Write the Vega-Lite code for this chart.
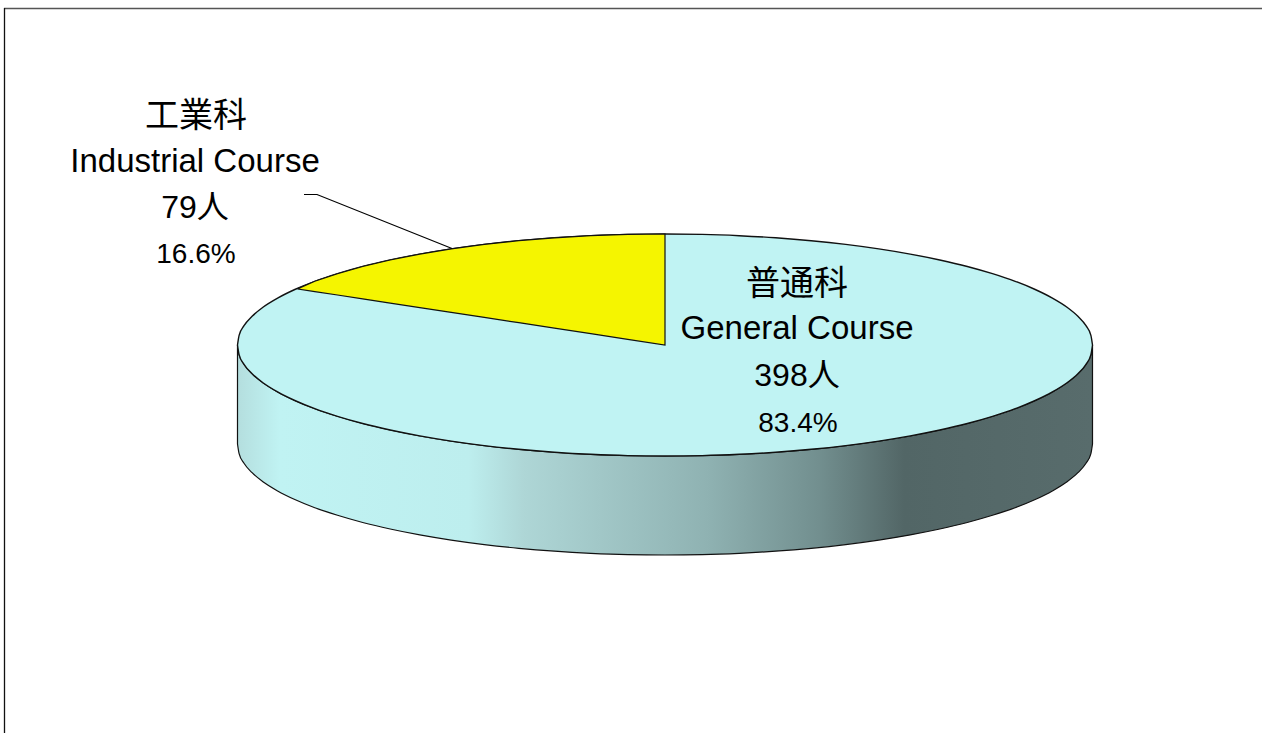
{
"$schema":"https://vega.github.io/schema/vega-lite/v6.json",
"width":1262,"height":733,"padding":0,"autosize":{"type":"none"},"background":"white",
"config":{"view":{"stroke":null}},
"datasets":{
"cyl":[
{"x":237.5,"upper":345,"lower":345,"base":444},
{"x":239.1,"upper":335.3,"lower":354.7,"base":453.7},
{"x":244.0,"upper":325.7,"lower":364.3,"base":463.3},
{"x":252.1,"upper":316.3,"lower":373.7,"base":472.7},
{"x":263.3,"upper":307,"lower":383,"base":482},
{"x":277.6,"upper":298.1,"lower":391.9,"base":490.9},
{"x":294.8,"upper":289.5,"lower":400.5,"base":499.5},
{"x":314.8,"upper":281.3,"lower":408.7,"base":507.7},
{"x":337.5,"upper":273.7,"lower":416.3,"base":515.3},
{"x":362.7,"upper":266.5,"lower":423.5,"base":522.5},
{"x":390.2,"upper":260,"lower":430,"base":529},
{"x":419.8,"upper":254.1,"lower":435.9,"base":534.9},
{"x":451.2,"upper":248.9,"lower":441.1,"base":540.1},
{"x":484.3,"upper":244.4,"lower":445.6,"base":544.6},
{"x":518.8,"upper":240.7,"lower":449.3,"base":548.3},
{"x":554.4,"upper":237.8,"lower":452.2,"base":551.2},
{"x":590.8,"upper":235.7,"lower":454.3,"base":553.3},
{"x":627.7,"upper":234.4,"lower":455.6,"base":554.6},
{"x":665,"upper":234,"lower":456,"base":555},
{"x":702.3,"upper":234.4,"lower":455.6,"base":554.6},
{"x":739.2,"upper":235.7,"lower":454.3,"base":553.3},
{"x":775.6,"upper":237.8,"lower":452.2,"base":551.2},
{"x":811.2,"upper":240.7,"lower":449.3,"base":548.3},
{"x":845.7,"upper":244.4,"lower":445.6,"base":544.6},
{"x":878.8,"upper":248.9,"lower":441.1,"base":540.1},
{"x":910.2,"upper":254.1,"lower":435.9,"base":534.9},
{"x":939.8,"upper":260,"lower":430,"base":529},
{"x":967.3,"upper":266.5,"lower":423.5,"base":522.5},
{"x":992.5,"upper":273.7,"lower":416.3,"base":515.3},
{"x":1015.2,"upper":281.3,"lower":408.7,"base":507.7},
{"x":1035.2,"upper":289.5,"lower":400.5,"base":499.5},
{"x":1052.4,"upper":298.1,"lower":391.9,"base":490.9},
{"x":1066.7,"upper":307,"lower":383,"base":482},
{"x":1077.9,"upper":316.3,"lower":373.7,"base":472.7},
{"x":1086,"upper":325.7,"lower":364.3,"base":463.3},
{"x":1090.9,"upper":335.3,"lower":354.7,"base":453.7},
{"x":1092.5,"upper":345,"lower":345,"base":444}
],
"slice":[
{"x":298,"upper":288.6,"chord":289},
{"x":314.8,"upper":281.3,"chord":291.6},
{"x":337.5,"upper":273.7,"chord":295},
{"x":362.7,"upper":266.5,"chord":298.9},
{"x":390.2,"upper":260,"chord":303.1},
{"x":419.8,"upper":254.1,"chord":307.6},
{"x":451.2,"upper":248.9,"chord":312.4},
{"x":484.3,"upper":244.4,"chord":317.4},
{"x":518.8,"upper":240.7,"chord":322.7},
{"x":554.4,"upper":237.8,"chord":328.1},
{"x":590.8,"upper":235.7,"chord":333.7},
{"x":627.7,"upper":234.4,"chord":339.3},
{"x":665,"upper":234,"chord":345}
],
"leader":[{"x":304,"y":194.5},{"x":317,"y":194.5},{"x":452,"y":248.5}],
"labelsCjk":[
{"x":196,"y":127,"t":"工業科"},
{"x":797,"y":295,"t":"普通科"}
],
"labelsLatin":[
{"x":195,"y":172,"t":"Industrial Course"},
{"x":797,"y":339,"t":"General Course"}
],
"labelsCount":[
{"x":195,"y":218,"t":"79人"},
{"x":797,"y":386,"t":"398人"}
],
"labelsPct":[
{"x":196,"y":263,"t":"16.6%"},
{"x":798,"y":432,"t":"83.4%"}
],
"frameTop":[{"x":4,"x2":1262,"y":8.5}],
"frameLeft":[{"x":4.5,"y":8,"y2":733}]
},
"layer":[
{"data":{"name":"frameTop"},"mark":{"type":"rule","stroke":"#555555","strokeWidth":1.5},
 "encoding":{"x":{"field":"x","type":"quantitative","scale":{"domain":[0,1262],"nice":false,"zero":false},"axis":null},"x2":{"field":"x2"},"y":{"field":"y","type":"quantitative","scale":{"domain":[733,0],"nice":false,"zero":false},"axis":null}}},
{"data":{"name":"frameLeft"},"mark":{"type":"rule","stroke":"#111111","strokeWidth":1.3},
 "encoding":{"x":{"field":"x","type":"quantitative","axis":null},"y":{"field":"y","type":"quantitative","axis":null},"y2":{"field":"y2"}}},
{"data":{"name":"cyl"},"mark":{"type":"area","interpolate":"monotone","stroke":"#111111","strokeWidth":1.2,
  "color":{"gradient":"linear","x1":0,"x2":1,"y1":0,"y2":0,"stops":[
   {"offset":0,"color":"#b4dede"},{"offset":0.05,"color":"#c0f3f3"},{"offset":0.27,"color":"#bdeeee"},{"offset":0.335,"color":"#aed6d6"},{"offset":0.55,"color":"#8fb2b2"},{"offset":0.68,"color":"#728f8f"},{"offset":0.78,"color":"#526666"},{"offset":1,"color":"#586c6c"}]}},
 "encoding":{"x":{"field":"x","type":"quantitative","axis":null},"y":{"field":"lower","type":"quantitative","axis":null},"y2":{"field":"base"}}},
{"data":{"name":"cyl"},"mark":{"type":"area","interpolate":"monotone","color":"#c0f3f3","stroke":"#111111","strokeWidth":1.4},
 "encoding":{"x":{"field":"x","type":"quantitative","axis":null},"y":{"field":"upper","type":"quantitative","axis":null},"y2":{"field":"lower"}}},
{"data":{"name":"slice"},"mark":{"type":"area","color":"#f5f500","stroke":"#111111","strokeWidth":1.2},
 "encoding":{"x":{"field":"x","type":"quantitative","axis":null},"y":{"field":"upper","type":"quantitative","axis":null},"y2":{"field":"chord"}}},
{"data":{"name":"leader"},"mark":{"type":"line","color":"#000000","strokeWidth":1.2},
 "encoding":{"x":{"field":"x","type":"quantitative","axis":null},"y":{"field":"y","type":"quantitative","axis":null}}},
{"data":{"name":"labelsCjk"},"mark":{"type":"text","font":"Noto Sans CJK JP","fontSize":34,"align":"center","baseline":"alphabetic","color":"#000000"},
 "encoding":{"x":{"field":"x","type":"quantitative","axis":null},"y":{"field":"y","type":"quantitative","axis":null},"text":{"field":"t"}}},
{"data":{"name":"labelsLatin"},"mark":{"type":"text","font":"Liberation Sans","fontSize":33,"align":"center","baseline":"alphabetic","color":"#000000"},
 "encoding":{"x":{"field":"x","type":"quantitative","axis":null},"y":{"field":"y","type":"quantitative","axis":null},"text":{"field":"t"}}},
{"data":{"name":"labelsCount"},"mark":{"type":"text","font":"Liberation Sans, Noto Sans CJK JP","fontSize":32,"align":"center","baseline":"alphabetic","color":"#000000"},
 "encoding":{"x":{"field":"x","type":"quantitative","axis":null},"y":{"field":"y","type":"quantitative","axis":null},"text":{"field":"t"}}},
{"data":{"name":"labelsPct"},"mark":{"type":"text","font":"Liberation Sans","fontSize":28,"align":"center","baseline":"alphabetic","color":"#000000"},
 "encoding":{"x":{"field":"x","type":"quantitative","axis":null},"y":{"field":"y","type":"quantitative","axis":null},"text":{"field":"t"}}}
]
}
